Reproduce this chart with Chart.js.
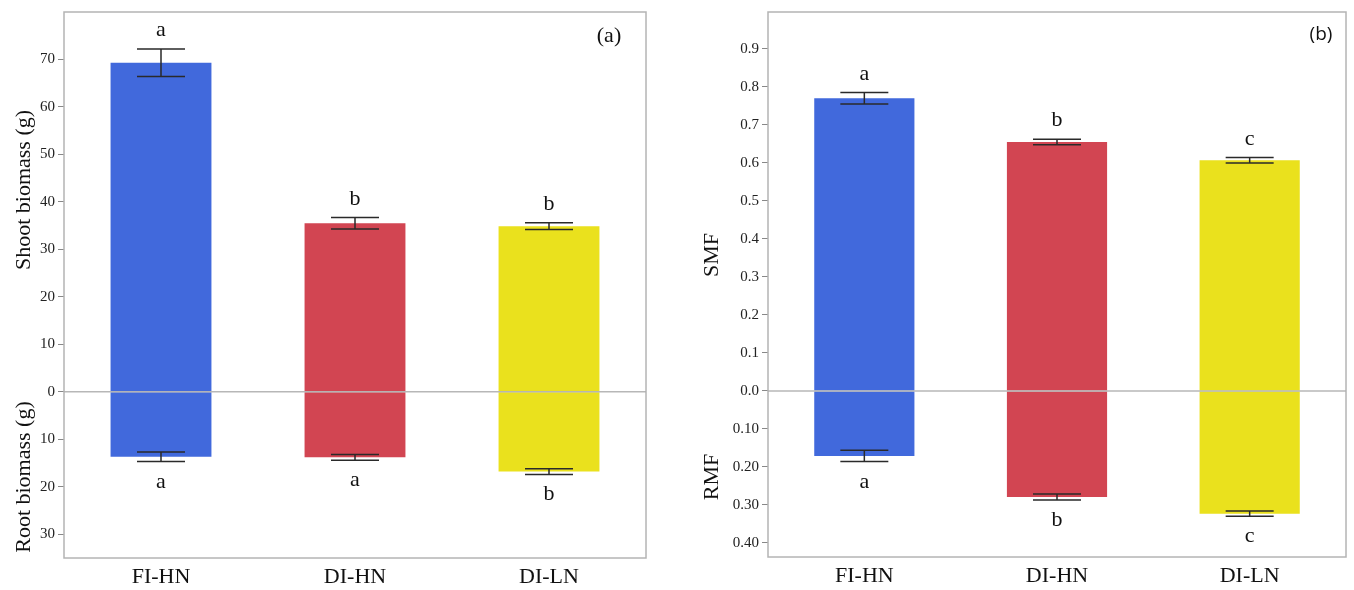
<!DOCTYPE html>
<html>
<head>
<meta charset="utf-8">
<script src="https://cdn.jsdelivr.net/npm/chart.js@4/dist/chart.umd.min.js"></script>
<style>
  body { margin: 0; background: #fff; }
  .panel { position: absolute; top: 0; width: 677px; height: 590px; }
</style>
</head>
<body>
<div class="panel" style="left:0"><canvas id="biomassChart" width="677" height="590"></canvas></div>
<div class="panel" style="left:677px"><canvas id="fractionChart" width="677" height="590"></canvas></div>
<script>
const categories = ['FI-HN', 'DI-HN', 'DI-LN'];
const barColors = ['#4169DC', '#D24552', '#EAE11D'];

// panel (a)
const shootBiomass = [69.3, 35.5, 34.9];
const shootErr = [2.9, 1.2, 0.7];
const rootBiomass = [13.7, 13.8, 16.8];
const rootErr = [1.0, 0.6, 0.6];
const shootLetters = ['a', 'b', 'b'];
const rootLetters = ['a', 'a', 'b'];
const biomassTicks = [-30, -20, -10, 0, 10, 20, 30, 40, 50, 60, 70];

// panel (b)
const smf = [0.770, 0.655, 0.607];
const smfErr = [0.015, 0.007, 0.007];
const rmf = [0.171, 0.279, 0.323];
const rmfErr = [0.015, 0.008, 0.007];
const smfLetters = ['a', 'b', 'c'];
const rmfLetters = ['a', 'b', 'c'];
const fractionTicks = [-0.4, -0.3, -0.2, -0.1, 0, 0.1, 0.2, 0.3, 0.4, 0.5, 0.6, 0.7, 0.8, 0.9];

const serif = '"Liberation Serif", "DejaVu Serif", serif';

const extrasPlugin = {
    id: 'extras',
    afterDraw(chart, args, opts) {
        const ctx = chart.ctx;
        const area = chart.chartArea;
        const y = chart.scales.y;
        ctx.save();

        // frame
        ctx.strokeStyle = '#b4b4b4';
        ctx.lineWidth = 1.5;
        ctx.strokeRect(area.left, area.top, area.right - area.left, area.bottom - area.top);

        // zero line
        const y0 = y.getPixelForValue(0);
        ctx.strokeStyle = 'rgba(175,175,175,0.9)';
        ctx.beginPath();
        ctx.moveTo(area.left, y0);
        ctx.lineTo(area.right, y0);
        ctx.stroke();

        // error bars and letters
        ctx.strokeStyle = '#2a2a2a';
        ctx.lineWidth = 1.5;
        ctx.fillStyle = '#111';
        ctx.font = '22px ' + serif;
        ctx.textAlign = 'center';
        ctx.textBaseline = 'alphabetic';
        [0, 1].forEach(di => {
            const meta = chart.getDatasetMeta(di);
            const values = chart.data.datasets[di].data;
            const errs = opts.errs[di];
            const letters = opts.letters[di];
            meta.data.forEach((bar, i) => {
                const v = values[i];
                const yA = y.getPixelForValue(v + errs[i]);
                const yB = y.getPixelForValue(v - errs[i]);
                const half = 24;
                ctx.beginPath();
                ctx.moveTo(bar.x - half, yA); ctx.lineTo(bar.x + half, yA);
                ctx.moveTo(bar.x - half, yB); ctx.lineTo(bar.x + half, yB);
                ctx.moveTo(bar.x, yA); ctx.lineTo(bar.x, yB);
                ctx.stroke();
                if (v >= 0) {
                    ctx.fillText(letters[i], bar.x, Math.min(yA, yB) - 13);
                } else {
                    ctx.fillText(letters[i], bar.x, Math.max(yA, yB) + 26);
                }
            });
        });

        // axis titles
        opts.titles.forEach(t => {
            ctx.save();
            ctx.translate(t.x, t.y);
            ctx.rotate(-Math.PI / 2);
            ctx.textBaseline = 'middle';
            ctx.fillText(t.text, 0, 0);
            ctx.restore();
        });

        // panel tag
        ctx.font = opts.tagFont;
        ctx.textBaseline = 'middle';
        ctx.fillText(opts.tag, opts.tagX, opts.tagY);
        ctx.restore();
    }
};

function buildChart(id, cfg) {
    return new Chart(document.getElementById(id), {
        type: 'bar',
        data: {
            labels: categories,
            datasets: [
                { data: cfg.top, backgroundColor: barColors, borderWidth: 0 },
                { data: cfg.bottom.map(v => -v), backgroundColor: barColors, borderWidth: 0 }
            ]
        },
        options: {
            responsive: false,
            animation: false,
            layout: { padding: { top: 12, right: cfg.padRight, left: 0, bottom: 0 } },
            plugins: {
                legend: { display: false },
                tooltip: { enabled: false },
                extras: cfg.extras
            },
            datasets: { bar: { categoryPercentage: 1, barPercentage: 0.52 } },
            scales: {
                x: {
                    stacked: true,
                    grid: { display: false },
                    border: { display: false },
                    ticks: { color: '#111', font: { family: serif, size: 22 }, padding: -2 },
                    afterFit(scale) { scale.height = cfg.xHeight; }
                },
                y: {
                    stacked: true,
                    min: cfg.min,
                    max: cfg.max,
                    afterBuildTicks(scale) { scale.ticks = cfg.ticks.map(v => ({ value: v })); },
                    afterFit(scale) { scale.width = cfg.yWidth; },
                    grid: { drawOnChartArea: false, drawTicks: true, tickLength: 6, color: '#888' },
                    border: { display: false },
                    ticks: {
                        color: '#222',
                        font: { family: serif, size: 15 },
                        padding: 3,
                        callback: cfg.tickFormat
                    }
                }
            }
        },
        plugins: [extrasPlugin]
    });
}

buildChart('biomassChart', {
    top: shootBiomass,
    bottom: rootBiomass,
    min: -35,
    max: 80,
    ticks: biomassTicks,
    yWidth: 64,
    xHeight: 32,
    padRight: 31,
    tickFormat: v => String(Math.abs(v)),
    extras: {
        errs: [shootErr, rootErr],
        letters: [shootLetters, rootLetters],
        titles: [
            { text: 'Shoot biomass (g)', x: 24, y: 190 },
            { text: 'Root biomass (g)', x: 24, y: 477 }
        ],
        tag: '(a)', tagX: 609, tagY: 36, tagFont: '22px ' + serif
    }
});

buildChart('fractionChart', {
    top: smf,
    bottom: rmf,
    min: -0.437,
    max: 0.997,
    ticks: fractionTicks,
    yWidth: 91,
    xHeight: 33,
    padRight: 8,
    tickFormat: v => v < 0 ? Math.abs(v).toFixed(2) : v.toFixed(1),
    extras: {
        errs: [smfErr, rmfErr],
        letters: [smfLetters, rmfLetters],
        titles: [
            { text: 'SMF', x: 35, y: 255 },
            { text: 'RMF', x: 35, y: 477 }
        ],
        tag: '(b)', tagX: 644, tagY: 35, tagFont: '19px "Open Sans", "Liberation Sans", sans-serif'
    }
});
</script>
</body>
</html>
